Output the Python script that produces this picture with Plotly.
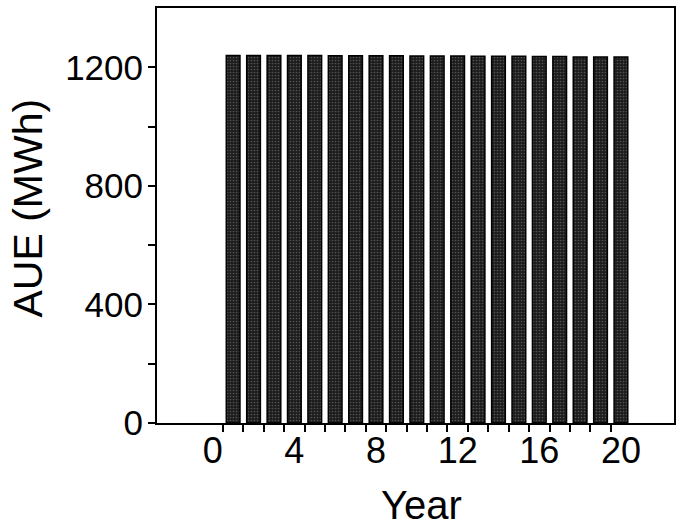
import plotly.graph_objects as go

# Annual unserved energy by year
years = list(range(1, 21))
aue_mwh = [1240, 1240, 1240, 1240, 1240, 1239, 1239, 1239, 1239, 1238,
           1238, 1238, 1237, 1237, 1237, 1236, 1236, 1235, 1235, 1235]

x_tick_vals = [0, 4, 8, 12, 16, 20]
x_minor_vals = [i + 0.5 for i in range(0, 20)]
y_tick_vals = [0, 400, 800, 1200]
y_minor_vals = [200, 600, 1000]

FONT = "Liberation Sans, Arial, Helvetica, sans-serif"

fig = go.Figure()
fig.add_trace(go.Bar(
    x=years,
    y=aue_mwh,
    width=0.67,
    marker=dict(
        color="#2b2b2b",
        line=dict(color="#000000", width=1.5),
        pattern=dict(shape=".", bgcolor="#1c1c1c", fgcolor="#8a8a8a",
                     size=3, solidity=0.25),
    ),
    showlegend=False,
))

fig.update_layout(
    width=682,
    height=528,
    margin=dict(l=157, r=6, t=6, b=105),
    paper_bgcolor="white",
    plot_bgcolor="white",
    font=dict(family=FONT, color="black"),
    xaxis=dict(
        range=[-2.73, 22.6],
        tickmode="array",
        tickvals=x_tick_vals,
        ticktext=[str(v) for v in x_tick_vals],
        ticks="",
        tickfont=dict(size=36, family=FONT),
        ticklabelstandoff=-5,
        minor=dict(tickvals=x_minor_vals, ticks="outside", ticklen=7,
                   tickwidth=1.5, tickcolor="black", showgrid=False),
        showline=True, linecolor="black", linewidth=2, mirror=True,
        showgrid=False, zeroline=False,
    ),
    yaxis=dict(
        range=[0, 1400],
        tickmode="array",
        tickvals=y_tick_vals,
        ticktext=[str(v) for v in y_tick_vals],
        ticks="outside", ticklen=7, tickwidth=2, tickcolor="black",
        tickfont=dict(size=35, family=FONT),
        ticklabelstandoff=-2,
        minor=dict(tickvals=y_minor_vals, ticks="outside", ticklen=7,
                   tickwidth=2, tickcolor="black", showgrid=False),
        showline=True, linecolor="black", linewidth=2, mirror=True,
        showgrid=False, zeroline=False,
    ),
    annotations=[
        dict(text="Year", x=0.5125, y=-0.197, xref="paper", yref="paper",
             xanchor="center", yanchor="middle", showarrow=False,
             font=dict(size=40, family=FONT, color="black")),
        dict(text="AUE (MWh)", x=-0.2486, y=0.518, xref="paper", yref="paper",
             xanchor="center", yanchor="middle", showarrow=False, textangle=-90,
             font=dict(size=41, family=FONT, color="black")),
    ],
)

fig.write_html("out.html")
